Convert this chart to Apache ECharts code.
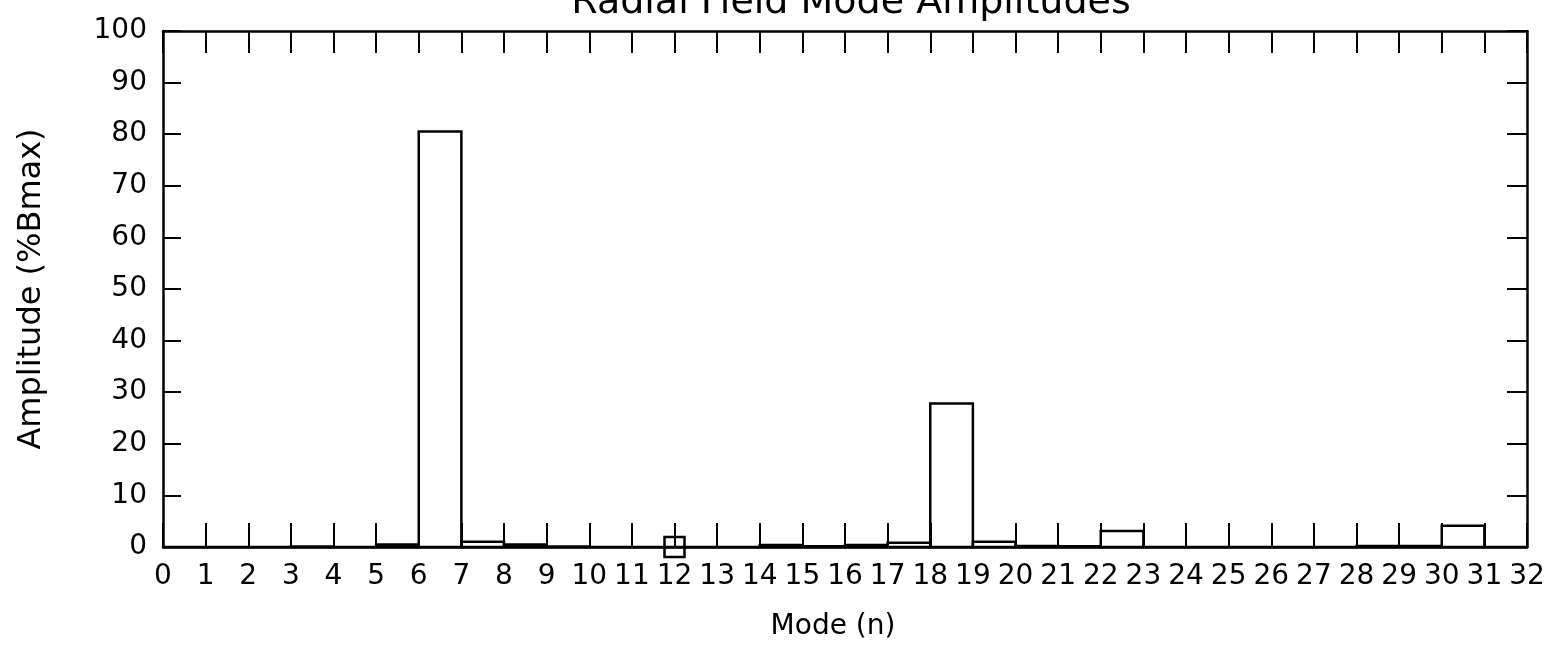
<!DOCTYPE html>
<html>
<head>
<meta charset="utf-8">
<script src="https://cdn.jsdelivr.net/npm/echarts@6/dist/echarts.min.js"></script>
<style>
  html, body { margin: 0; padding: 0; background: #fff; }
  #chart { width: 1550px; height: 649px; }
</style>
</head>
<body>
<div id="chart"></div>
<script>
// Mode numbers (each bar spans mode n to n+1)
const modes = [0,1,2,3,4,5,6,7,8,9,10,11,12,13,14,15,16,17,18,19,20,21,22,23,24,25,26,27,28,29,30,31];
// Radial field amplitude per mode, % of Bmax
const amplitudes = [0,0,0,0.1,0,0.5,80.5,1.0,0.5,0.1,0,0,0,0,0.4,0.15,0.4,0.8,27.8,1.0,0.2,0.15,3.1,0,0,0,0,0,0.2,0.2,4.1,0];
// Highlighted mode marker
const markerModes = [12];
const markerAmps = [0];
// Axis ranges
const xTicks = { min: 0, max: 32, step: 1 };
const yTicks = { min: 0, max: 100, step: 10 };

const FONT = "'DejaVu Sans', 'Liberation Sans', sans-serif";
const chart = echarts.init(document.getElementById('chart'), null, { renderer: 'canvas' });

const barData = modes.map((m, i) => [m, amplitudes[i]]);
const markerData = markerModes.map((m, i) => [m, markerAmps[i]]);

// Frame lines stay on the grid edges (no snapping to zero)
const axisLine = { show: true, onZero: false, lineStyle: { color: '#000', width: 2.5 } };

chart.setOption({
  animation: false,
  backgroundColor: '#fff',
  title: {
    text: 'Radial Field Mode Amplitudes',
    left: 846, top: -21, textAlign: 'center',
    textStyle: { fontFamily: FONT, fontSize: 38, fontWeight: 'normal', color: '#000' }
  },
  grid: { left: 163, right: 23, top: 31, bottom: 102 },
  xAxis: [{
    type: 'value', position: 'bottom',
    min: xTicks.min, max: xTicks.max, interval: xTicks.step,
    name: 'Mode (n)', nameLocation: 'middle', nameGap: 66,
    nameTextStyle: { fontFamily: FONT, fontSize: 28, color: '#000', padding: [0, 24, 0, 0] },
    axisLine: axisLine,
    axisTick: { show: true, inside: true, length: 24, lineStyle: { color: '#000', width: 2 } },
    axisLabel: { fontFamily: FONT, fontSize: 28, color: '#000', margin: 16, showMinLabel: true, showMaxLabel: true },
    splitLine: { show: false }
  }, {
    type: 'value', position: 'top',
    min: xTicks.min, max: xTicks.max, interval: xTicks.step,
    axisLine: axisLine,
    axisTick: { show: true, inside: true, length: 22, lineStyle: { color: '#000', width: 2 } },
    axisLabel: { show: false },
    splitLine: { show: false }
  }],
  yAxis: [{
    type: 'value', position: 'left',
    min: yTicks.min, max: yTicks.max, interval: yTicks.step,
    name: 'Amplitude (%Bmax)', nameLocation: 'middle', nameGap: 115, nameRotate: 90,
    nameTextStyle: { fontFamily: FONT, fontSize: 32, color: '#000' },
    axisLine: axisLine,
    axisTick: { show: true, inside: true, length: 18, lineStyle: { color: '#000', width: 2 } },
    axisLabel: { fontFamily: FONT, fontSize: 28, color: '#000', margin: 16, padding: [0, 0, 8, 0] },
    splitLine: { show: false }
  }, {
    type: 'value', position: 'right',
    min: yTicks.min, max: yTicks.max, interval: yTicks.step,
    axisLine: axisLine,
    axisTick: { show: true, inside: true, length: 20, lineStyle: { color: '#000', width: 2 } },
    axisLabel: { show: false },
    splitLine: { show: false }
  }],
  series: [{
    type: 'custom',
    xAxisIndex: 0, yAxisIndex: 0,
    data: barData,
    renderItem: function (params, api) {
      const m = api.value(0);
      const a = api.value(1);
      const p0 = api.coord([m, a]);
      const p1 = api.coord([m + 1, 0]);
      return {
        type: 'rect',
        shape: { x: p0[0], y: p0[1], width: p1[0] - p0[0], height: p1[1] - p0[1] },
        style: { fill: 'none', stroke: '#000', lineWidth: 2.5 }
      };
    },
    z: 3
  }, {
    type: 'scatter',
    xAxisIndex: 0, yAxisIndex: 0,
    data: markerData,
    symbol: 'rect', symbolSize: 20,
    itemStyle: { color: 'rgba(0,0,0,0)', borderColor: '#000', borderWidth: 2.5, opacity: 1 },
    z: 4
  }]
});
</script>
</body>
</html>
